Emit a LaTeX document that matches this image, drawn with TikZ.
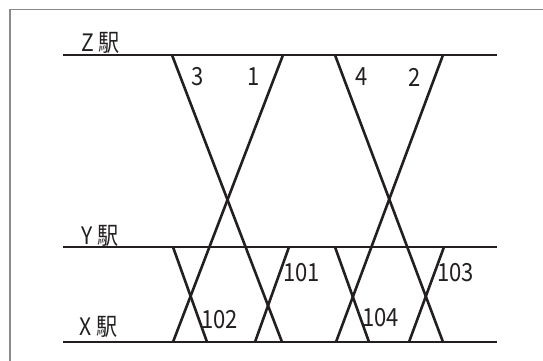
\documentclass[tikz,border=0pt]{standalone}
\usepackage{fontspec}
\setmainfont{Noto Sans CJK JP}
\newfontfamily\narrowfont[FakeStretch=0.88]{Noto Sans CJK JP}
\definecolor{ink}{HTML}{231F20}
\definecolor{frame}{HTML}{8A8A8A}
\tikzset{
  track/.style={line width=2.2pt, draw=ink},
  train/.style={line width=2.6pt, draw=ink},
  lab/.style={font=\narrowfont\fontsize{25}{25}\selectfont, text=ink, inner sep=0pt},
  stn/.style={font=\narrowfont\fontsize{24}{24}\selectfont, text=ink, inner sep=0pt, anchor=base west}
}
\begin{document}
\begin{tikzpicture}[x=1pt,y=-1pt]
\useasboundingbox (0,0) rectangle (543,361);
\draw[frame, line width=1.6pt] (10,370) -- (10,9.5) -- (560,9.5);
% stations
\coordinate (zl) at (63,55);  \coordinate (zr) at (497,55);
\coordinate (yl) at (63,247); \coordinate (yr) at (497,247);
\coordinate (xl) at (63,342); \coordinate (xr) at (497,342);
\draw[track] (zl) -- (zr);
\draw[track] (yl) -- (yr);
\draw[track] (xl) -- (xr);
\node[stn] (zs) at (81,52) {Z 駅};
\node[stn] (ys) at (81,244) {Y 駅};
\node[stn] (xs) at (79,335) {X 駅};
% endpoints
\coordinate (t3a) at (172,55);  \coordinate (t3b) at (282,342);
\coordinate (t1a) at (283,55);  \coordinate (t1b) at (173,342);
\coordinate (t102a) at (173,247); \coordinate (t102b) at (207,342);
\coordinate (t101a) at (289,247); \coordinate (t101b) at (255,342);
\coordinate (t4a) at (335,55);  \coordinate (t4b) at (443,342);
\coordinate (t2a) at (443,55);  \coordinate (t2b) at (336,342);
\coordinate (t104a) at (335,247); \coordinate (t104b) at (369,342);
\coordinate (t103a) at (444,247); \coordinate (t103b) at (409,342);
\draw[train] (t3a) -- (t3b);
\draw[train] (t1a) -- (t1b);
\draw[train] (t102a) -- (t102b);
\draw[train] (t101a) -- (t101b);
\draw[train] (t4a) -- (t4b);
\draw[train] (t2a) -- (t2b);
\draw[train] (t104a) -- (t104b);
\draw[train] (t103a) -- (t103b);
% labels
\node[lab] (l3) at (198,77) {3};
\node[lab] (l1) at (254,77) {1};
\node[lab] (l4) at (362,77) {4};
\node[lab] (l2) at (415,77) {2};
\node[lab, anchor=west] (l101) at (283,273) {101};
\node[lab, anchor=west] (l102) at (201,320) {102};
\node[lab, anchor=west] (l104) at (362,318) {104};
\node[lab, anchor=west] (l103) at (437,273) {103};
\end{tikzpicture}
\end{document}
